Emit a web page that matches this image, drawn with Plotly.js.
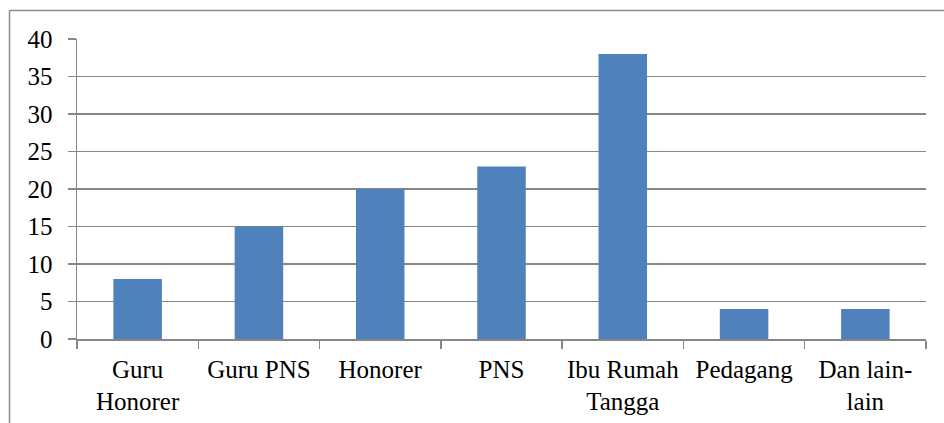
<!DOCTYPE html>
<html>
<head>
<meta charset="utf-8">
<script src="https://cdn.plot.ly/plotly-3.0.1.min.js"></script>
<style>
  html, body { margin: 0; padding: 0; background: #fff; }
  #chart { width: 944px; height: 423px; }
</style>
</head>
<body>
<div id="chart"></div>
<script>
const categories = ["Guru<br>Honorer", "Guru PNS", "Honorer", "PNS", "Ibu Rumah<br>Tangga", "Pedagang", "Dan lain-<br>lain"];
const values = [8, 15, 20, 23, 38, 4, 4];
const yTicks = [0, 5, 10, 15, 20, 25, 30, 35, 40];

const L = 77, R = 18, T = 39, B = 84, W = 944, H = 423;
const pw = W - L - R, ph = H - T - B;
const px = x => (x - L) / pw;
const py = y => (H - B - y) / ph;

const trace = {
  type: "bar",
  x: categories,
  y: values,
  marker: { color: "#4F81BD", line: { width: 0 } },
  hoverinfo: "x+y"
};

const font = { family: "Liberation Serif", size: 25, color: "#000" };

const layout = {
  width: W, height: H,
  margin: { l: L, r: R, t: T, b: B, pad: 0 },
  paper_bgcolor: "#fff",
  plot_bgcolor: "#fff",
  showlegend: false,
  bargap: 0.6,
  font: font,
  xaxis: {
    type: "category",
    tickson: "boundaries",
    ticks: "outside",
    ticklen: 8,
    tickcolor: "#868686",
    tickwidth: 1.5,
    showline: true,
    linecolor: "#868686",
    linewidth: 1.5,
    showgrid: false,
    tickfont: font,
    tickangle: 0,
    ticklabelstandoff: 7,
    fixedrange: true
  },
  yaxis: {
    range: [0, 40],
    tickvals: yTicks,
    ticktext: yTicks.map(String),
    ticks: "outside",
    ticklen: 8,
    tickcolor: "#868686",
    tickwidth: 1.5,
    showline: true,
    linecolor: "#868686",
    linewidth: 1.5,
    showgrid: true,
    gridcolor: "#868686",
    gridwidth: 1.5,
    zeroline: false,
    tickfont: font,
    ticklabelstandoff: 10,
    fixedrange: true
  },
  shapes: [
    { type: "line", xref: "paper", yref: "paper", x0: px(9.5), x1: px(960), y0: py(10.5), y1: py(10.5), line: { color: "#8c8c8c", width: 1.5 } },
    { type: "line", xref: "paper", yref: "paper", x0: px(9.5), x1: px(9.5), y0: py(10.5), y1: py(440), line: { color: "#8c8c8c", width: 1.5 } }
  ]
};

Plotly.newPlot("chart", [trace], layout, { displayModeBar: false, staticPlot: true });
</script>
</body>
</html>
